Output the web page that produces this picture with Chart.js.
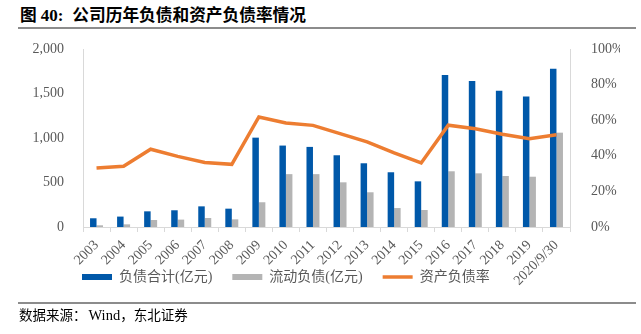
<!DOCTYPE html>
<html>
<head>
<meta charset="utf-8">
<script src="https://cdn.jsdelivr.net/npm/chart.js@4.4.1/dist/chart.umd.min.js"></script>
<style>
  body { margin: 0; width: 641px; height: 334px; background: #fff; position: relative; overflow: hidden; }
  #title { position: absolute; left: 20px; top: 2px; font: bold 16.7px "Noto Sans CJK SC", sans-serif; color: #000; white-space: nowrap; }
  #title .num { font-family: "Liberation Serif", serif; font-size: 17px; margin: 0 9px 0 4px; }
  .rule { position: absolute; left: 18px; width: 618px; height: 2px; background: #8c8c8c; }
  #source { position: absolute; left: 19px; top: 304px; font: 13.5px "Noto Sans CJK SC", sans-serif; color: #000; white-space: nowrap; }
  #source .latin { font-family: "Liberation Serif", serif; font-size: 14.5px; margin-left: 2px; }
  #chartBox { position: absolute; left: 0; top: 0; width: 641px; height: 334px; }
</style>
</head>
<body>
<div id="title">图<span class="num">40:</span>公司历年负债和资产负债率情况</div>
<div class="rule" style="top:27px"></div>
<div id="chartBox"><canvas id="debtChart"></canvas></div>
<div class="rule" style="top:302px"></div>
<div id="source">数据来源：<span class="latin">Wind</span>，东北证券</div>

<script>
const years = ["2003", "2004", "2005", "2006", "2007", "2008", "2009", "2010", "2011",
    "2012", "2013", "2014", "2015", "2016", "2017", "2018", "2019", "2020/9/30"];
const totalDebt = [98, 117, 176, 188, 232, 206, 1004, 915, 900, 806, 716, 615, 513, 1708, 1641, 1532, 1465, 1779];
const currentDebt = [19, 30, 79, 83, 101, 86, 278, 594, 594, 502, 390, 213, 191, 626, 603, 573, 565, 1060];
const debtRatio = [33.1, 34.1, 43.7, 39.7, 36.2, 35.2, 61.8, 58.4, 57.1, 52.5, 47.8, 41.6, 36.0, 57.2, 55.2, 52.1, 49.6, 51.8];

const blue = "#0058A9";
const gray = "#B4B4B4";
const orange = "#ED7D31";
const axisColor = "#D9D9D9";
const textColor = "#595959";
const serif = '"Liberation Serif", serif';

const legendLabels = (chart) => {
    const items = Chart.defaults.plugins.legend.labels.generateLabels(chart);
    items.forEach((item) => {
        const ds = chart.data.datasets[item.datasetIndex];
        if (ds.type === "line") {
            item.pointStyle = "line";
            item.strokeStyle = ds.borderColor;
            item.lineWidth = 3.5;
        } else {
            item.pointStyle = "rect";
            item.fillStyle = ds.backgroundColor;
            item.lineWidth = 0;
        }
    });
    return items;
};

// legend sits right under the axis, beside the long rotated last label
const legendPlace = {
    id: "legendPlace",
    afterLayout(chart) {
        const lg = chart.legend;
        const h = lg.height;
        lg.top = 250;
        lg.bottom = 250 + h;
        lg.left = 62;
        lg.right = 620;
    },
};

new Chart(document.getElementById("debtChart"), {
    data: {
        labels: years,
        datasets: [
            {
                type: "bar",
                label: "负债合计(亿元)",
                data: totalDebt,
                yAxisID: "y",
                backgroundColor: blue,
                categoryPercentage: 0.48,
                barPercentage: 1,
                order: 1,
            },
            {
                type: "bar",
                label: "流动负债(亿元)",
                data: currentDebt,
                yAxisID: "y",
                backgroundColor: gray,
                categoryPercentage: 0.48,
                barPercentage: 1,
                order: 2,
            },
            {
                type: "line",
                label: "资产负债率",
                data: debtRatio,
                yAxisID: "y1",
                borderColor: orange,
                borderWidth: 3.5,
                pointRadius: 0,
                tension: 0,
                order: 0,
            },
        ],
    },
    options: {
        responsive: true,
        maintainAspectRatio: false,
        animation: false,
        layout: { padding: { left: 0, right: 21, top: 49, bottom: 0 } },
        plugins: {
            legend: {
                position: "bottom",
                align: "start",
                labels: {
                    usePointStyle: true,
                    pointStyleWidth: 30,
                    boxHeight: 6,
                    padding: 20,
                    color: textColor,
                    font: { family: '"Liberation Serif", "Noto Sans CJK SC", serif', size: 14 },
                    generateLabels: legendLabels,
                    sort: (a, b) => a.datasetIndex - b.datasetIndex,
                },
            },
            tooltip: { enabled: false },
        },
        scales: {
            x: {
                grid: { display: true, drawOnChartArea: false, offset: true, color: axisColor, tickLength: 5 },
                border: { color: axisColor },
                ticks: {
                    autoSkip: false,
                    minRotation: 45,
                    maxRotation: 45,
                    padding: 5,
                    color: textColor,
                    font: { family: serif, size: 14 },
                },
                afterFit: (scale) => { scale.height = 63; },
            },
            y: {
                position: "left",
                min: 0,
                max: 2000,
                grid: { display: false },
                border: { color: axisColor },
                ticks: { stepSize: 500, padding: 11, color: textColor, font: { family: serif, size: 14 } },
                afterFit: (scale) => { scale.width = 83; },
            },
            y1: {
                position: "right",
                min: 0,
                max: 100,
                grid: { display: false },
                border: { color: axisColor },
                ticks: {
                    stepSize: 20,
                    padding: 13,
                    color: textColor,
                    font: { family: serif, size: 14 },
                    callback: (v) => v + "%",
                },
                afterFit: (scale) => { scale.width = 50; },
            },
        },
    },
    plugins: [legendPlace],
});
</script>
</body>
</html>
